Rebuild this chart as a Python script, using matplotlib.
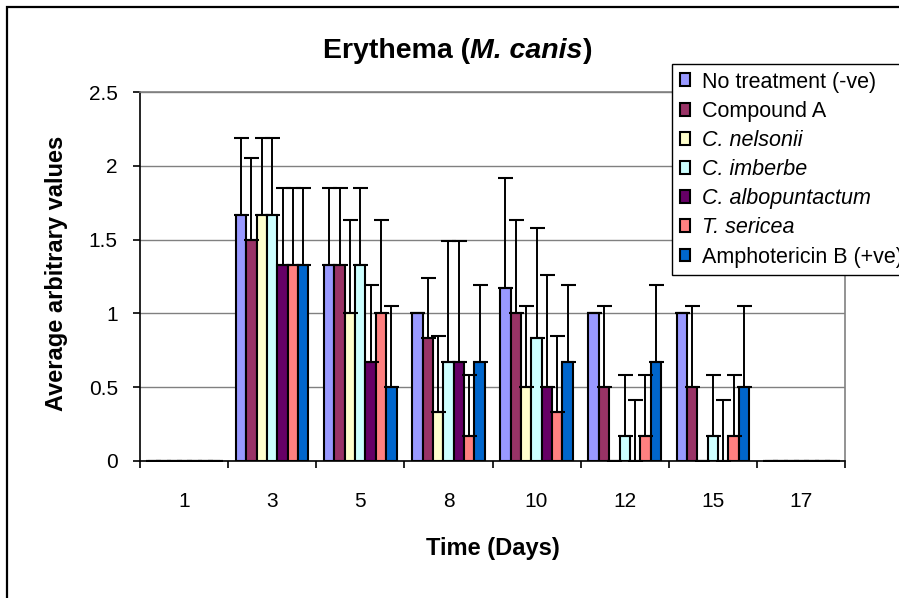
import numpy as np
import matplotlib
matplotlib.use("Agg")
import matplotlib.pyplot as plt
from matplotlib.patches import Rectangle

plt.rcParams["font.family"] = ["Liberation Sans", "DejaVu Sans"]

# ---- data: mean scores and upper standard deviation per treatment ----
days = ["1", "3", "5", "8", "10", "12", "15", "17"]

series_names = [
    "No treatment (-ve)",
    "Compound A",
    "C. nelsonii",
    "C. imberbe",
    "C. albopuntactum",
    "T. sericea",
    "Amphotericin B (+ve)",
]
italic_names = [False, False, True, True, True, True, False]
colors = ["#9999FF", "#993366", "#FFFFCC", "#CCFFFF", "#660066", "#FF8080", "#0066CC"]

no_treatment = [0, 1.67, 1.33, 1.0, 1.17, 1.0, 1.0, 0]
compound_a = [0, 1.5, 1.33, 0.83, 1.0, 0.5, 0.5, 0]
c_nelsonii = [0, 1.67, 1.0, 0.33, 0.5, 0, 0, 0]
c_imberbe = [0, 1.67, 1.33, 0.67, 0.83, 0.17, 0.17, 0]
c_albopuntactum = [0, 1.33, 0.67, 0.67, 0.5, 0, 0, 0]
t_sericea = [0, 1.33, 1.0, 0.17, 0.33, 0.17, 0.17, 0]
amphotericin_b = [0, 1.33, 0.5, 0.67, 0.67, 0.67, 0.5, 0]

sd_no_treatment = [0, 0.52, 0.52, 0, 0.75, 0, 0, 0]
sd_compound_a = [0, 0.55, 0.52, 0.41, 0.63, 0.55, 0.55, 0]
sd_c_nelsonii = [0, 0.52, 0.63, 0.52, 0.55, 0, 0, 0]
sd_c_imberbe = [0, 0.52, 0.52, 0.82, 0.75, 0.41, 0.41, 0]
sd_c_albopuntactum = [0, 0.52, 0.52, 0.82, 0.76, 0.41, 0.41, 0]
sd_t_sericea = [0, 0.52, 0.63, 0.41, 0.52, 0.41, 0.41, 0]
sd_amphotericin_b = [0, 0.52, 0.55, 0.52, 0.52, 0.52, 0.55, 0]

means = [no_treatment, compound_a, c_nelsonii, c_imberbe,
         c_albopuntactum, t_sericea, amphotericin_b]
sds = [sd_no_treatment, sd_compound_a, sd_c_nelsonii, sd_c_imberbe,
       sd_c_albopuntactum, sd_t_sericea, sd_amphotericin_b]

W, H = 899, 598
fig = plt.figure(figsize=(W / 100, H / 100), dpi=100)
ax = fig.add_axes([140 / W, 1 - 461 / H, 705 / W, 369 / H])

n = len(series_names)
bar_w = 1 / (n + 1.5)
x = np.arange(len(days))

for j in range(n):
    pos = x + (j - (n - 1) / 2) * bar_w
    m = np.array(means[j])
    s = np.array(sds[j])
    ax.bar(pos, m, width=bar_w, color=colors[j], edgecolor="black",
           linewidth=1.5, label=series_names[j], zorder=2)
    # only the plus side of the error bar is drawn
    ax.errorbar(pos, m, yerr=[np.zeros_like(s), s], fmt="none", ecolor="black",
                elinewidth=1.4, capsize=5.4, capthick=1.5, zorder=3)

ax.set_xlim(-0.5, len(days) - 0.5)
ax.set_ylim(0, 2.5)
ax.set_yticks(np.arange(0, 2.51, 0.5))
ax.set_yticklabels(["0", "0.5", "1", "1.5", "2", "2.5"], fontsize=15)
ax.yaxis.grid(True, color="#808080", linewidth=1.0, zorder=0)
ax.set_axisbelow(True)

# category boundaries get the tick marks, labels sit in the middle
ax.set_xticks(np.arange(-0.5, len(days), 1.0))
ax.set_xticklabels([])
ax.set_xticks(x, minor=True)
ax.set_xticklabels(days, minor=True, fontsize=15)
ax.tick_params(axis="x", which="major", direction="out", length=5, width=1.2)
ax.tick_params(axis="x", which="minor", length=0, pad=22)
ax.tick_params(axis="y", direction="out", length=5, width=1.2, pad=11)

ax.spines["left"].set_linewidth(1.2)
ax.spines["bottom"].set_linewidth(1.2)
for side in ["top", "right"]:
    ax.spines[side].set_color("#808080")
    ax.spines[side].set_linewidth(1.2)

fig.text(56 / W, 1 - 273 / H, "Average arbitrary values", rotation=90,
         ha="center", va="center", fontsize=17, fontweight="bold")
fig.text(493 / W, 1 - 549 / H, "Time (Days)", ha="center", va="center",
         fontsize=17, fontweight="bold")

# title with an italic species name in the middle
ty = 1 - 58 / H
t1 = fig.text(0, ty, "Erythema (", fontsize=20.5, fontweight="bold", va="baseline")
t2 = fig.text(0, ty, "M. canis", fontsize=20.5, fontweight="bold",
              style="italic", va="baseline")
t3 = fig.text(0, ty, ")", fontsize=20.5, fontweight="bold", va="baseline")
renderer = fig.canvas.get_renderer()
widths = [t.get_window_extent(renderer).width for t in (t1, t2, t3)]
x0 = 457.5 - sum(widths) / 2
for t, w in zip((t1, t2, t3), widths):
    t.set_x(x0 / W)
    x0 += w

leg = ax.legend(loc="upper left", bbox_to_anchor=(672 / W, 1 - 64 / H),
                bbox_transform=fig.transFigure, borderaxespad=0,
                fontsize=15.5, frameon=True, fancybox=False, shadow=False,
                handlelength=0.5, handleheight=0.55, handletextpad=0.55,
                labelspacing=0.38, borderpad=0.35)
leg.get_frame().set_edgecolor("black")
leg.get_frame().set_linewidth(1.0)
leg.get_frame().set_alpha(1)
for txt, it in zip(leg.get_texts(), italic_names):
    if it:
        txt.set_style("italic")

# outer chart border (only left and top edges fall inside the image)
fig.add_artist(Rectangle((7 / W, -0.2), 2, 1.2 - 7 / H, fill=False,
                         edgecolor="black", linewidth=1.6,
                         transform=fig.transFigure, clip_on=False))

fig.savefig("out.png", dpi=100)
